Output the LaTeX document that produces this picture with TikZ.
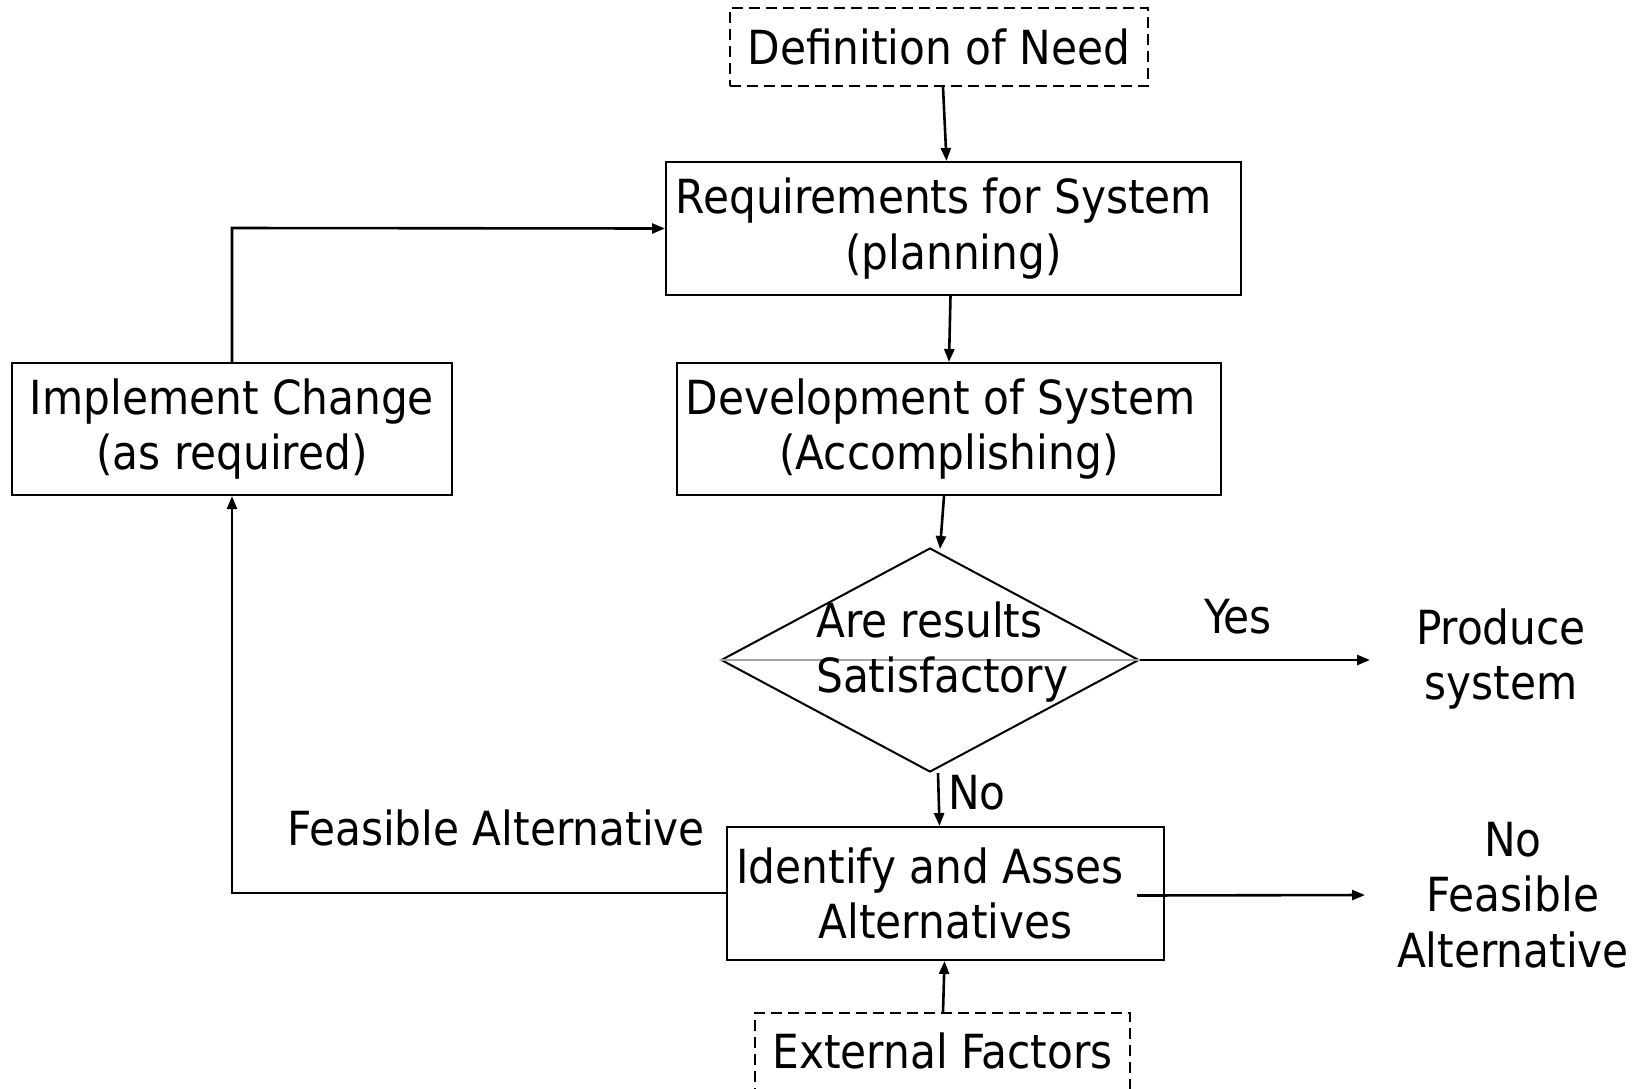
\documentclass[tikz,border=0pt]{standalone}
\usepackage{fontspec}
\setmainfont{DejaVu Sans Condensed}
\usetikzlibrary{arrows.meta,shapes.geometric,calc}
\tikzset{
  txt/.style={font=\fontsize{47}{55.5}\selectfont, align=center, inner sep=0pt},
  boxnode/.style={draw, line width=2pt, inner sep=0pt, align=center, font=\fontsize{47}{55.5}\selectfont},
  dbox/.style={boxnode, dash pattern=on 11pt off 6pt},
  conn/.style={line width=2.6pt, -{Triangle[length=13pt,width=10pt]}},
  plain/.style={line width=2.6pt}
}
\begin{document}
\begin{tikzpicture}[x=1pt,y=-1pt]
\useasboundingbox (0,0) rectangle (1641,1088);
\clip (0,0) rectangle (1641,1088);
\fill[white] (0,0) rectangle (1641,1088);

\node[dbox, minimum width=418pt, minimum height=78pt] (def) at (939,47) {Definition of Need};
\node[boxnode, minimum width=575pt, minimum height=133pt] (req) at (953.5,228.5) {Requirements for System\hspace*{19pt}\\(planning)};
\node[boxnode, minimum width=544pt, minimum height=132pt] (dev) at (949,429) {Development of System\hspace*{17pt}\\(Accomplishing)};
\node[boxnode, minimum width=440pt, minimum height=132pt] (impl) at (232,429) {Implement Change\\(as required)};
\node[draw, line width=2pt, shape=diamond, aspect=1.866, minimum width=418pt, minimum height=224pt, inner sep=0pt] (diam) at (930,660) {};
\draw[gray!70, line width=1.2pt] (diam.west) -- (diam.east);
\node[txt, align=left, anchor=west] (diamtxt) at (816,652) {Are results\\Satisfactory};
\node[boxnode, minimum width=437pt, minimum height=133pt] (iden) at (945.5,893.5) {Identify and Asses\hspace*{31pt}\\Alternatives};
\node[dbox, minimum width=375pt, minimum height=110pt] (ext) at (942.5,1068) {};
\node[txt, anchor=base] (exttxt) at (942.5,1068) {External Factors};

\node[txt] (prod) at (1501,659) {Produce\\system};
\node[txt] (nofeas) at (1513,895) {No\\Feasible\\Alternative};
\node[txt] (yes) at (1238,617) {Yes};
\node[txt] (no) at (977,793) {No};
\node[txt] (feas) at (496,828) {Feasible Alternative};

\draw[conn] ($(def.south)+(4,0)$) -- ($(req.north)+(-7,0)$);
\draw[conn] ($(req.south)+(-3,0)$) -- ($(dev.north)+(0,0)$);
\draw[conn] ($(dev.south)+(-5,0)$) -- ($(diam.north)+(10,2)$);
\draw[conn] ($(diam.south)+(8,0)$) -- ($(iden.north)+(-6,0)$);
\draw[conn] (diam.east) -- (1370,660) coordinate (yesend);
\draw[conn] ($(iden.east)+(-28,2)$) -- (1365,895) coordinate (noend);
\draw[conn] ($(ext.north)+(0.5,0)$) -- ($(iden.south)+(-1,0)$);
\draw[conn] (iden.west |- 0,893) -- (232,893) -- (impl.south);
\draw[conn] (impl.north) -- (232,228) -- (req.west);
\end{tikzpicture}
\end{document}
